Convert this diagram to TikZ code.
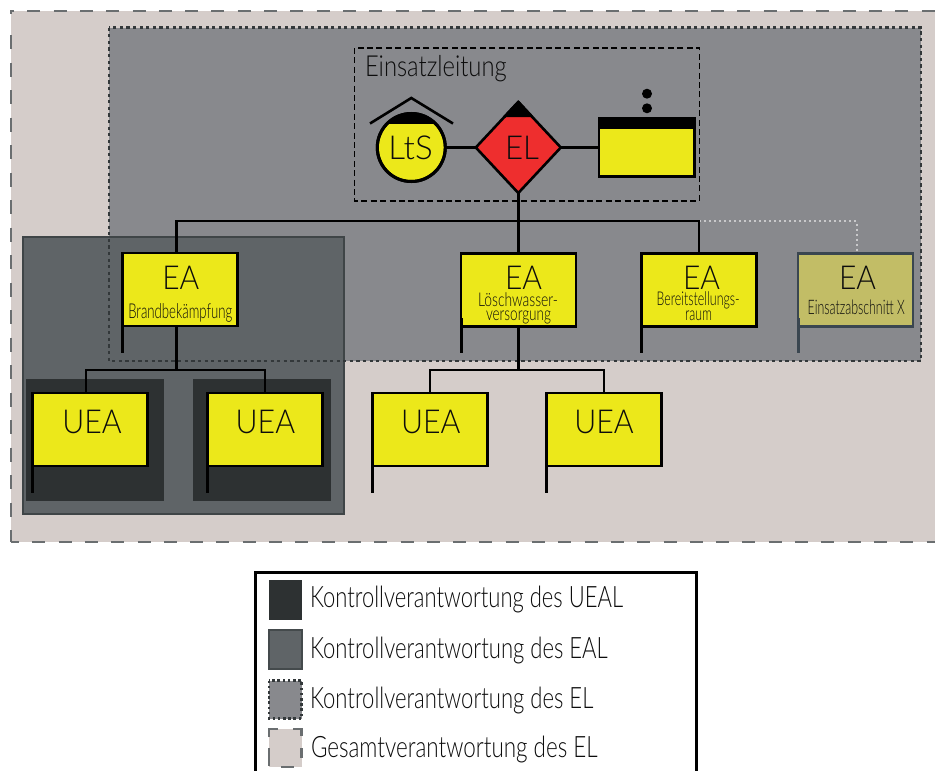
\documentclass[tikz,border=0pt]{standalone}
\usepackage{fontspec}
\setmainfont{Lato Light}
\usetikzlibrary{shapes.geometric,calc}
\definecolor{palec}{HTML}{D5CDCA}
\definecolor{elgrey}{HTML}{88898D}
\definecolor{ealgrey}{HTML}{5F6467}
\definecolor{ealedge}{HTML}{3F4547}
\definecolor{uealdark}{HTML}{2D3132}
\definecolor{dashc}{HTML}{6A6E70}
\definecolor{dotc}{HTML}{33383A}
\definecolor{boxy}{HTML}{ECE81A}
\definecolor{boxfade}{HTML}{C2BD66}
\definecolor{fadeedge}{HTML}{3A4650}
\definecolor{redc}{HTML}{EE2E2E}
\definecolor{dotlight}{HTML}{C9C9CB}
\definecolor{txt}{HTML}{0C0C0C}
\newcommand\fw[3]{\resizebox{#1pt}{\height}{\fontsize{#2}{#2}\selectfont #3}}
\tikzset{
  lbl/.style={anchor=base west,inner sep=0pt,outer sep=0pt,text=txt},
  orgbox/.style={draw=black,fill=boxy,line width=2.9pt,inner sep=0pt,outer sep=0pt,minimum width=115pt,minimum height=73pt},
  fadebox/.style={orgbox,draw=fadeedge,fill=boxfade},
  thin link/.style={draw=black,line width=2.2pt},
  thick link/.style={draw=black,line width=3.2pt},
  pole/.style={draw=black,line width=3pt},
  ghost link/.style={draw=dotlight,line width=2pt,dash pattern=on 2pt off 3pt},
  bigdash/.style={draw=dashc,line width=2.4pt,dash pattern=on 13pt off 13.3pt},
  eldots/.style={draw=dotc,line width=2.6pt,dash pattern=on 3.3pt off 3.3pt},
  legendtxt/.style={lbl}
}
\begin{document}
\begin{tikzpicture}[x=1pt,y=-1pt]
\useasboundingbox (0,0) rectangle (935,771);
\fill[white] (0,0) rectangle (935,771);

% areas
\fill[palec] (11,11) rectangle (935,541.7);
\draw[bigdash,dash phase=10pt] (11,11) -- (935,11);
\draw[dashc,line width=2.4pt] (14,11) -- (11,11) -- (11,14);
\draw[draw=dashc,line width=2.4pt,dash pattern=on 14pt off 13.5pt] (11,35) -- (11,541.7);
\draw[bigdash,dash phase=5pt] (11,541.7) -- (935,541.7);
\fill[elgrey] (109,27.5) rectangle (921,361);
\fill[ealgrey] (23.2,237.2) rectangle (343.8,514.2);
\draw[ealedge,line width=2pt] (23.2,237.2) rectangle (343.8,514.2);
\fill[uealdark] (26,379) rectangle (164,500.7);
\fill[uealdark] (193,379) rectangle (331,500.7);
\draw[eldots] (109,27.5) rectangle (921,361);
\draw[black,line width=1.6pt,dash pattern=on 6pt off 3.4pt] (354.5,48) rectangle (699.5,201);

% command group
\node[circle,draw=black,fill=boxy,line width=3pt,minimum size=68pt,inner sep=0pt,outer sep=0pt] (lts) at (411.3,147.5) {};
\begin{scope}
  \clip (lts.center) circle [radius=34];
  \fill[black] (370,100) rectangle (453,124);
\end{scope}
\draw[black,line width=3pt] (lts.center) circle [radius=34];
\coordinate (roofl) at (370,123.5);
\coordinate (rooft) at (411.3,98);
\coordinate (roofr) at (453,123.5);
\draw[black,line width=2.6pt] (roofl) -- (rooft) -- (roofr);

\node[diamond,draw=black,fill=redc,line width=2.6pt,minimum width=85pt,minimum height=91pt,inner sep=0pt,outer sep=0pt] (el) at (518.3,147.5) {};
\fill[black] (el.north) -- ($(el.north)!0.33!(el.east)$) -- ($(el.north)!0.33!(el.west)$) -- cycle;
\draw[black,line width=2.6pt,line join=miter] (el.north) -- ($(el.north)!0.33!(el.east)$) (el.north) -- ($(el.north)!0.33!(el.west)$);

\node[draw=black,fill=boxy,line width=2.6pt,minimum width=95.5pt,minimum height=58.5pt,inner sep=0pt,outer sep=0pt] (rb) at (646.7,147.5) {};
\coordinate (bandend) at (694.5,129);
\fill[black] (rb.north west) rectangle (bandend);
\node[circle,fill=black,minimum size=10pt,inner sep=0pt] (dota) at (647,93.7) {};
\node[circle,fill=black,minimum size=10pt,inner sep=0pt] (dotb) at (647,108.3) {};

% boxes
\node[orgbox] (ea1) at (180.3,289.5) {};
\node[orgbox] (ea2) at (518.5,289.7) {};
\node[orgbox] (ea3) at (698.7,289.7) {};
\node[fadebox] (ea4) at (855.5,289.7) {};
\node[orgbox] (ue1) at (90.3,429.5) {};
\node[orgbox] (ue2) at (264.7,429.5) {};
\node[orgbox] (ue3) at (430,429.5) {};
\node[orgbox] (ue4) at (604.3,429.5) {};

% connectors
\draw[thin link] (lts.east) -- (el.west);
\draw[thin link] (el.east) -- (rb.west);
\coordinate (busl) at (176.5,221);
\coordinate (busr) at (699,221);
\coordinate (gbus) at (856.5,221);
\draw[ghost link] (busr) -- (gbus) -- (gbus |- ea4.north);
\draw[thin link,line cap=rect] (busl |- ea1.north) -- (busl) -- (busr) -- (busr |- ea3.north);
\draw[thick link] (el.south) -- (el.south |- ea2.north);
\coordinate (bl) at (176.5,370);
\coordinate (blw) at (86,370);
\coordinate (ble) at (265,370);
\draw[thick link] (bl |- ea1.south) -- (bl);
\draw[thin link] (blw |- ue1.north) -- (blw) -- (ble) -- (ble |- ue2.north);
\coordinate (br) at (518.5,370);
\coordinate (brw) at (430,370);
\coordinate (bre) at (604.3,370);
\draw[thick link] (ea2.south) -- (br);
\draw[thin link] (ue3.north) -- (brw) -- (bre) -- (ue4.north);

% poles
\foreach \b in {ea1,ea2,ea3,ue1,ue2,ue3,ue4}{
  \coordinate (end\b) at ($(\b.south west)+(0,27)$);
  \draw[pole] ($(\b.south west)+(0,-8)$) -- (end\b);
}
\coordinate (endea4) at ($(ea4.south west)+(0,27)$);
\draw[pole,draw=fadeedge] ($(ea4.south west)+(0,-8)$) -- (endea4);

% labels
\node[lbl] (t0) at (365,76) {\fw{141.7}{29}{Einsatzleitung}};
\node[lbl] (t1) at (388.3,159.8) {\fw{44.4}{33}{LtS}};
\node[lbl] (t2) at (505,159.8) {\fw{34}{33}{EL}};
\node[lbl] (ta1) at (162.3,289.8) {\fw{37}{33}{EA}};
\node[lbl] (ta2) at (505,289.8) {\fw{37}{33}{EA}};
\node[lbl] (ta3) at (683,289.8) {\fw{37}{33}{EA}};
\node[lbl] (ta4) at (839,289.8) {\fw{37}{33}{EA}};
\node[lbl] (s1) at (128.3,318.3) {\fw{104}{20.5}{Brandbekämpfung}};
\node[lbl] (s2a) at (478,306) {\fw{80}{19}{Löschwasser-}};
\node[lbl] (s2b) at (486,320.7) {\fw{65}{19}{versorgung}};
\node[lbl] (s3a) at (656.7,305.7) {\fw{83}{19}{Bereitstellungs-}};
\node[lbl] (s3b) at (685,320.7) {\fw{27}{19}{raum}};
\node[lbl] (s4) at (807.7,314) {\fw{97}{20}{Einsatzabschnitt X}};
\node[lbl] (u1) at (62.3,433) {\fw{59.4}{33}{UEA}};
\node[lbl] (u2) at (235.7,433) {\fw{59.4}{33}{UEA}};
\node[lbl] (u3) at (401,433) {\fw{59.4}{33}{UEA}};
\node[lbl] (u4) at (574.3,433) {\fw{59.4}{33}{UEA}};

% legend
\coordinate (lega) at (255.5,771);
\coordinate (legb) at (255.5,572.5);
\coordinate (legc) at (696.5,572.5);
\coordinate (legd) at (696.5,771);
\draw[black,line width=3pt] (lega) -- (legb) -- (legc) -- (legd);
\fill[uealdark] (269,580) rectangle (302,620);
\fill[ealgrey] (269,630.3) rectangle (301.5,668.5);
\draw[ealedge!85!ealgrey,line width=2pt] (269,630.3) rectangle (301.5,668.5);
\fill[elgrey] (269,680.5) rectangle (301.5,718.5);
\draw[dotc,line width=2.2pt,dash pattern=on 2.6pt off 2.6pt] (269,680.5) rectangle (301.5,718.5);
\fill[palec] (269,729) rectangle (301.5,767);
\draw[dashc,line width=2.2pt] (269,737) -- (269,729) -- (278,729)
  (293,729) -- (301.5,729) -- (301.5,736)
  (301.5,748) -- (301.5,758)
  (269,748) -- (269,766)
  (281,767) -- (294,767);
\node[legendtxt] (l1) at (310,607.7) {\fw{313}{29.5}{Kontrollverantwortung des UEAL}};
\node[legendtxt] (l2) at (310,658.7) {\fw{297.7}{29.5}{Kontrollverantwortung des EAL}};
\node[legendtxt] (l3) at (310,708.7) {\fw{283.3}{29.5}{Kontrollverantwortung des EL}};
\node[legendtxt] (l4) at (311,757.7) {\fw{286.7}{29.5}{Gesamtverantwortung des EL}};
\end{tikzpicture}
\end{document}
